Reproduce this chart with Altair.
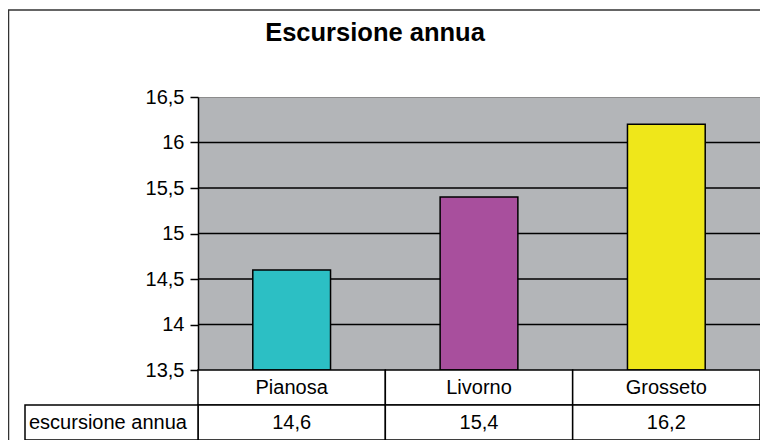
import altair as alt
import pandas as pd

# ---- data ----
categories = ["Pianosa", "Livorno", "Grosseto"]
values = [14.6, 15.4, 16.2]
colors = ["#2cbfc4", "#a84f9d", "#efe71a"]
tick_values = [13.5, 14.0, 14.5, 15.0, 15.5, 16.0, 16.5]
grid_values = [14.0, 14.5, 15.0, 15.5, 16.0]
row_label = "escursione annua"
title_text = "Escursione annua"

FONT = "Liberation Sans"
W, PLOT_H, TABLE_H = 562, 273, 70
H = PLOT_H + TABLE_H

bars_df = pd.DataFrame({"cat": categories, "value": values, "color": colors})
grid_df = pd.DataFrame({"value": grid_values})

table_rows = []
for c, v in zip(categories, values):
    table_rows.append({"cat": c, "row": "h", "text": c})
    table_rows.append({"cat": c, "row": "v", "text": f"{v:.1f}".replace(".", ",")})
table_df = pd.DataFrame(table_rows)
label_df = pd.DataFrame({"row": ["v"], "text": [row_label]})

x_scale = alt.Scale(domain=categories, paddingInner=0, paddingOuter=0)
y_scale = alt.Scale(domain=[13.5, 16.5], range=[PLOT_H, 0], zero=False, nice=False)
row_scale = alt.Scale(domain=["h", "v"], range=[PLOT_H, H], paddingInner=0, paddingOuter=0)

y_axis = alt.Axis(
    values=tick_values,
    labelExpr="replace(format(datum.value, '.1~f'), '.', ',')",
    title=None, grid=False, labelFontSize=20, labelFont=FONT, labelColor="black",
    tickColor="black", tickSize=8, tickWidth=1.5, domainColor="black", domainWidth=1.5,
    labelPadding=6,
)

grid = alt.Chart(grid_df).mark_rule(color="black", strokeWidth=1.4).encode(
    y=alt.Y("value:Q", scale=y_scale, axis=None)
)

bars = alt.Chart(bars_df).mark_bar(
    width=alt.RelativeBandSize(0.415), stroke="black", strokeWidth=1.5
).encode(
    x=alt.X("cat:N", scale=x_scale, axis=None, sort=categories),
    y=alt.Y("value:Q", scale=y_scale, axis=y_axis),
    y2=alt.datum(13.5),
    color=alt.Color("color:N", scale=None),
)

cells = alt.Chart(table_df).mark_rect(fill="white", stroke="black", strokeWidth=1.5).encode(
    x=alt.X("cat:N", scale=x_scale, axis=None, sort=categories),
    y=alt.Y("row:N", scale=row_scale, axis=None),
)
cell_text = alt.Chart(table_df).mark_text(
    font=FONT, fontSize=20, color="black", baseline="middle", align="center"
).encode(
    x=alt.X("cat:N", scale=x_scale, axis=None, sort=categories),
    y=alt.Y("row:N", scale=row_scale, axis=None),
    text="text:N",
)

label_cell = alt.Chart(label_df).mark_rect(fill="white", stroke="black", strokeWidth=1.5).encode(
    x=alt.value(-173), x2=alt.value(0),
    y=alt.Y("row:N", scale=row_scale, axis=None),
)
label_text = alt.Chart(label_df).mark_text(
    font=FONT, fontSize=20, color="black", baseline="middle", align="left"
).encode(
    x=alt.value(-169),
    y=alt.Y("row:N", scale=row_scale, axis=None),
    text="text:N",
)

border = alt.Chart(label_df).mark_rect(fill=None, stroke="#333333", strokeWidth=1.5).encode(
    x=alt.value(-189.5), x2=alt.value(700), y=alt.value(-87), y2=alt.value(500)
)

title = alt.Chart(label_df).mark_text(
    text=title_text, font=FONT, fontSize=25.5, fontWeight="bold", color="black",
    align="center", baseline="alphabetic",
).encode(x=alt.value(177), y=alt.value(-56))

chart = alt.layer(
    grid, bars, cells, cell_text, label_cell, label_text, border, title
).resolve_scale(y="independent").properties(
    width=W, height=H, autosize="none",
    padding={"left": 190, "top": 89, "right": 0, "bottom": 0},
).configure_view(fill="#b3b5b8", stroke="#8c8c8c", strokeWidth=1)

chart.save("out.html", embed_options={"renderer": "svg", "actions": False})
